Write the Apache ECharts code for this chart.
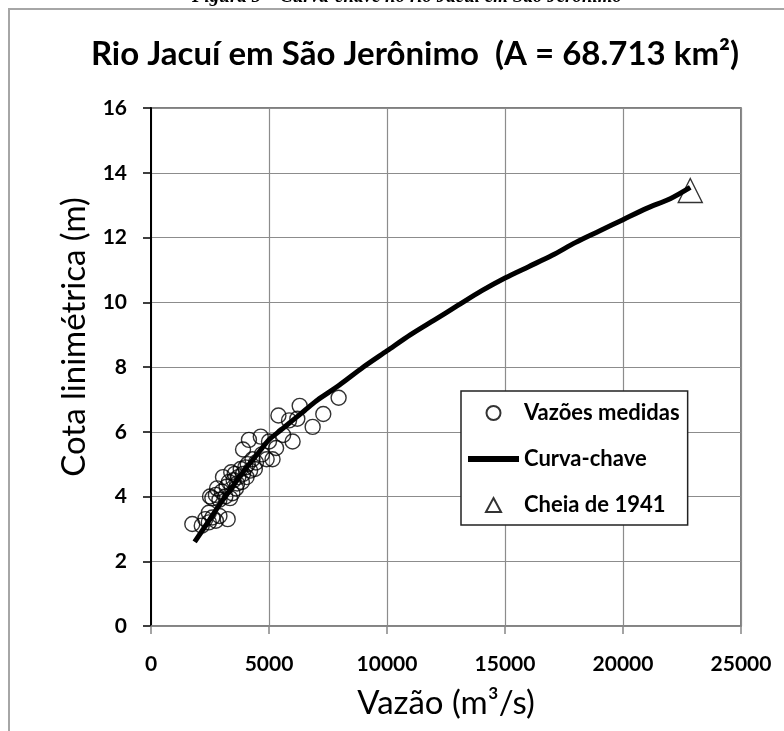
<!DOCTYPE html>
<html>
<head>
<meta charset="utf-8">
<script src="https://cdn.jsdelivr.net/npm/echarts@6/dist/echarts.min.js"></script>
<style>
  html, body { margin: 0; padding: 0; background: #fff; }
  #chart { width: 784px; height: 731px; }
</style>
</head>
<body>
<div id="chart"></div>
<script>
// medições de vazão (m3/s) x cota (m)
var vazaoMedida = [1750, 2150, 2300, 2450, 2600, 2750, 2900, 3250, 2600, 2750, 2500, 2900, 2800, 3000,
  3050, 3200, 3300, 3350, 3450, 3500, 3550, 3600, 3650, 3700, 3800, 3850, 3900, 4000, 4050, 4100,
  4200, 4300, 4400, 4450, 3900, 4150, 4650, 4900, 5150, 5300, 5000, 5400, 5850, 6000, 6300, 6200,
  6850, 7300, 7950, 5600, 4700, 3400, 3150, 2450];
var cotaMedida = [3.15, 3.1, 3.3, 3.2, 3.35, 3.25, 3.4, 3.3, 3.95, 4.05, 4.0, 3.9, 4.25, 4.15,
  4.6, 4.3, 4.45, 3.95, 4.1, 4.5, 4.7, 4.25, 4.4, 4.6, 4.85, 4.45, 4.7, 4.9, 4.6, 5.0,
  4.8, 5.15, 4.85, 5.05, 5.45, 5.75, 5.85, 5.15, 5.15, 5.5, 5.7, 6.5, 6.35, 5.7, 6.8, 6.4,
  6.15, 6.55, 7.05, 5.9, 5.3, 4.75, 4.0, 3.5];

// curva-chave
var vazaoCurva = [1850, 2500, 3000, 3500, 4000, 4500, 5000, 5500, 6000, 6500, 7000, 7500, 8000,
  9000, 10000, 11000, 12000, 13000, 14000, 15000, 16000, 17000, 18000, 19000, 20000, 21000, 22000, 22850];
var cotaCurva = [2.6, 3.3, 3.85, 4.35, 4.85, 5.3, 5.75, 6.05, 6.35, 6.65, 6.95, 7.2, 7.45,
  8.0, 8.5, 9.0, 9.45, 9.9, 10.35, 10.75, 11.1, 11.45, 11.85, 12.2, 12.55, 12.9, 13.2, 13.55];

// cheia de 1941
var vazaoCheia = [22850];
var cotaCheia = [13.45];

function pares(xs, ys) {
  return xs.map(function (x, i) { return [x, ys[i]]; });
}

var chart = echarts.init(document.getElementById('chart'));
var fonte = 'Lato, "Open Sans", sans-serif';

chart.setOption({
  backgroundColor: '#fff',
  animation: false,
  title: {
    text: 'Rio Jacuí em São Jerônimo  (A = 68.713 km²)',
    left: 410,
    textAlign: 'center',
    top: 33,
    textStyle: { fontFamily: fonte, fontWeight: 'bold', fontSize: 33, color: '#000' }
  },
  graphic: [
    {
      type: 'polyline',
      shape: { points: [[9, 740], [9, 9], [800, 9]] },
      style: { stroke: '#a6a6a6', lineWidth: 2, fill: null },
      silent: true
    },
    {
      type: 'text',
      x: 407,
      y: -12,
      silent: true,
      style: {
        text: 'Figura 5 – Curva-chave no rio Jacuí em São Jerônimo',
        font: 'italic bold 19px "Liberation Serif"',
        fill: '#000',
        align: 'center',
        verticalAlign: 'top'
      }
    }
  ],
  grid: {
    left: 151, right: 43, top: 108, bottom: 105,
    show: true, borderColor: '#555', borderWidth: 1.5
  },
  legend: {
    orient: 'vertical',
    left: 461,
    top: 391,
    padding: [11, 8, 9, 7],
    backgroundColor: '#fff',
    borderColor: '#222',
    borderWidth: 1.5,
    itemWidth: 51,
    itemHeight: 14,
    itemGap: 24,
    symbolKeepAspect: true,
    textStyle: { fontFamily: fonte, fontWeight: 'bold', fontSize: 22, color: '#000' },
    data: [
      { name: 'Vazões medidas', icon: 'circle' },
      { name: 'Curva-chave', icon: 'path://M0,0 L51,0 L51,6 L0,6 Z' },
      { name: 'Cheia de 1941', icon: 'path://M7,0 L14,13 L0,13 Z' }
    ]
  },
  xAxis: {
    type: 'value',
    min: 0, max: 25000, interval: 5000,
    name: 'Vazão (m³/s)',
    nameLocation: 'middle',
    nameGap: 61,
    nameTextStyle: { fontFamily: fonte, fontSize: 33, color: '#000' },
    axisLine: { show: true, lineStyle: { color: '#868686', width: 1.5 } },
    axisTick: { show: true, length: 8, lineStyle: { color: '#868686', width: 1.5 } },
    axisLabel: {
      margin: 28, fontFamily: fonte, fontWeight: 'bold', fontSize: 21, color: '#000',
      formatter: function (v) { return String(v); }
    },
    splitLine: { show: true, lineStyle: { color: '#8c8c8c', width: 1.2 } }
  },
  yAxis: {
    type: 'value',
    min: 0, max: 16, interval: 2,
    name: 'Cota linimétrica (m)',
    nameLocation: 'middle',
    nameGap: 60,
    nameTextStyle: { fontFamily: fonte, fontSize: 33, color: '#000', padding: [0, 0, 0, 60] },
    axisLine: { show: true, lineStyle: { color: '#000', width: 2 } },
    axisTick: { show: true, length: 8, lineStyle: { color: '#000', width: 1.5 } },
    axisLabel: { margin: 24, fontFamily: fonte, fontWeight: 'bold', fontSize: 21, color: '#000' },
    splitLine: { show: true, lineStyle: { color: '#8c8c8c', width: 1.2 } }
  },
  series: [
    {
      name: 'Vazões medidas',
      type: 'scatter',
      symbol: 'circle',
      symbolSize: 15,
      itemStyle: { color: 'rgba(255,255,255,0)', borderColor: '#000', borderWidth: 1.4 },
      data: pares(vazaoMedida, cotaMedida),
      z: 2
    },
    {
      name: 'Curva-chave',
      type: 'line',
      symbol: 'none',
      smooth: 0.3,
      lineStyle: { color: '#000', width: 5 },
      itemStyle: { color: '#000' },
      data: pares(vazaoCurva, cotaCurva),
      z: 3
    },
    {
      name: 'Cheia de 1941',
      type: 'scatter',
      symbol: 'triangle',
      symbolSize: 24,
      itemStyle: { color: 'rgba(255,255,255,0)', borderColor: '#000', borderWidth: 1.4 },
      data: pares(vazaoCheia, cotaCheia),
      z: 4
    }
  ]
});
</script>
</body>
</html>
